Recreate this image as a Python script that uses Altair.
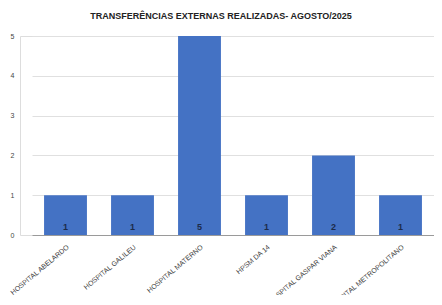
import altair as alt
import pandas as pd

hospitais = ["HOSPITAL ABELARDO", "HOSPITAL GALILEU", "HOSPITAL MATERNO",
             "HPSM DA 14", "HOSPITAL GASPAR VIANA", "HOSPITAL METROPOLITANO"]
valores = [1, 1, 5, 1, 2, 1]
ticks_y = [0, 1, 2, 3, 4, 5]

df = pd.DataFrame({"hospital": hospitais, "valor": valores})

FONT = "Liberation Sans"

xaxis = alt.Axis(labelAngle=320, labelAlign="right", labelBaseline="top",
                 labelFontSize=7, labelColor="#444", ticks=False, domain=False,
                 labelPadding=8, labelFont=FONT, labelLimit=200,
                 labelOverlap=False, title=None)
yaxis = alt.Axis(values=ticks_y, labelFontSize=7, labelOverlap=False,
                 labelColor="#444", ticks=False, domain=False, labelPadding=6,
                 labelFont=FONT, title=None,
                 gridColor=alt.condition("datum.value == 0", alt.value("#9a9a9a"), alt.value("#e0e0e0")),
                 gridWidth=1)
xscale = alt.Scale(range=[12, 414], paddingInner=0.36, paddingOuter=0.18)
yscale = alt.Scale(domain=[0, 5], nice=False)

bars = alt.Chart(df).mark_bar(color="#4472C4").encode(
    x=alt.X("hospital:N", sort=hospitais, scale=xscale, axis=xaxis),
    y=alt.Y("valor:Q", scale=yscale, axis=yaxis))
labels = alt.Chart(df).mark_text(fontSize=9, fontWeight="bold", color="#1c2b4a",
                                 font=FONT, dy=-8).encode(
    x=alt.X("hospital:N", sort=hospitais, scale=xscale, axis=xaxis),
    y=alt.YDatum(0, scale=yscale, axis=yaxis),
    text="valor:Q")

chart = alt.layer(bars, labels).properties(
    width=414, height=199,
    autosize=alt.AutoSizeParams(type="none"),
    padding={"left": 12, "top": 28, "right": 0, "bottom": 60},
    title=alt.TitleParams("TRANSFERÊNCIAS EXTERNAS REALIZADAS-  AGOSTO/2025",
                          fontSize=9, fontWeight="bold", font=FONT, color="#222",
                          offset=11, dx=-6),
).configure_view(stroke=None).configure(background="white")

chart.save("out.html", embed_options={"renderer": "svg", "actions": False})
